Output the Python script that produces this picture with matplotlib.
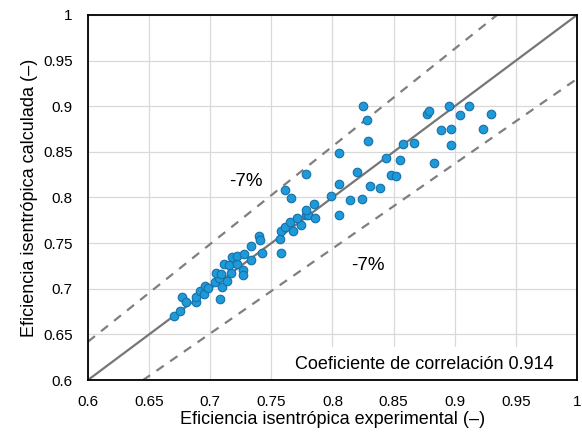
import numpy as np
import matplotlib
matplotlib.use('Agg')
import matplotlib.pyplot as plt
from matplotlib.patches import Rectangle

# eficiencia experimental vs calculada
exp_eff = [0.670, 0.675, 0.677, 0.680, 0.688, 0.688, 0.692, 0.695, 0.696, 0.698,
           0.708, 0.704, 0.710, 0.714, 0.707, 0.705, 0.709, 0.717, 0.711, 0.715,
           0.722, 0.718, 0.722, 0.727, 0.727, 0.728, 0.733, 0.733, 0.740, 0.741,
           0.742, 0.758, 0.757, 0.758, 0.768, 0.761, 0.765, 0.774, 0.771, 0.778,
           0.780, 0.786, 0.778, 0.785, 0.761, 0.766, 0.778, 0.799, 0.805, 0.805,
           0.805, 0.814, 0.824, 0.820, 0.825, 0.828, 0.829, 0.831, 0.839, 0.844,
           0.855, 0.848, 0.852, 0.858, 0.867, 0.877, 0.879, 0.895, 0.904, 0.912,
           0.930, 0.889, 0.897, 0.923, 0.897, 0.883]
calc_eff = [0.670, 0.676, 0.691, 0.686, 0.686, 0.691, 0.697, 0.694, 0.703, 0.701,
            0.689, 0.707, 0.702, 0.708, 0.712, 0.717, 0.716, 0.717, 0.727, 0.726,
            0.727, 0.735, 0.736, 0.720, 0.715, 0.738, 0.732, 0.747, 0.758, 0.753,
            0.739, 0.739, 0.755, 0.763, 0.763, 0.768, 0.773, 0.770, 0.777, 0.781,
            0.781, 0.777, 0.786, 0.793, 0.808, 0.799, 0.826, 0.802, 0.781, 0.815,
            0.849, 0.797, 0.798, 0.828, 0.900, 0.885, 0.862, 0.813, 0.810, 0.843,
            0.841, 0.825, 0.824, 0.859, 0.860, 0.892, 0.895, 0.900, 0.890, 0.900,
            0.892, 0.874, 0.875, 0.875, 0.858, 0.838]

ref_line = [0.6, 1.0]
band = 0.07

plt.rcParams['font.family'] = ['Liberation Sans', 'DejaVu Sans']

fig = plt.figure(figsize=(5.82, 4.33), dpi=100)
ax = fig.add_axes([0.1512, 0.1224, 0.8402, 0.843])

ax.grid(True, color='#d9d9d9', linewidth=0.9, zorder=0)
ax.set_axisbelow(True)

x = np.array(ref_line)
ax.plot(x, x, color='#767676', linewidth=1.6, zorder=2)
ax.plot(x, x * (1 + band), color='#7f7f7f', linewidth=1.6,
        linestyle=(0, (4, 3.5)), zorder=2)
ax.plot(x, x * (1 - band), color='#7f7f7f', linewidth=1.6,
        linestyle=(0, (4, 3.5)), zorder=2)

ax.scatter(exp_eff, calc_eff, s=38, color='#1e9ad8', edgecolor='#1670a8',
           linewidth=0.8, zorder=3)

ax.text(0.729, 0.817, '-7%', fontsize=13.5, ha='center', va='center')
ax.text(0.829, 0.726, '-7%', fontsize=13.5, ha='center', va='center')

# caja blanca detras del coeficiente
ax.add_patch(Rectangle((0.757, 0.601), 0.2405, 0.035, facecolor='white',
                       edgecolor='none', zorder=1))
ax.text(0.9805, 0.6175, 'Coeficiente de correlación 0.914', fontsize=13,
        ha='right', va='center', zorder=4)

ax.set_xlim(0.6, 1.0)
ax.set_ylim(0.6, 1.0)
ticks = [0.6, 0.65, 0.7, 0.75, 0.8, 0.85, 0.9, 0.95, 1.0]
tick_labels = ['0.6', '0.65', '0.7', '0.75', '0.8', '0.85', '0.9', '0.95', '1']
ax.set_xticks(ticks)
ax.set_xticklabels(tick_labels)
ax.set_yticks(ticks)
ax.set_yticklabels(tick_labels)
ax.tick_params(axis='x', length=0, labelsize=11, pad=11)
ax.tick_params(axis='y', length=0, labelsize=11, pad=11)
for s in ax.spines.values():
    s.set_linewidth(1.3)
    s.set_color('black')

ax.set_xlabel('Eficiencia isentrópica experimental (–)', fontsize=13, labelpad=1)
ax.set_ylabel('Eficiencia isentrópica calculada (–)', fontsize=13, labelpad=4)

fig.savefig('out.png', dpi=100)
